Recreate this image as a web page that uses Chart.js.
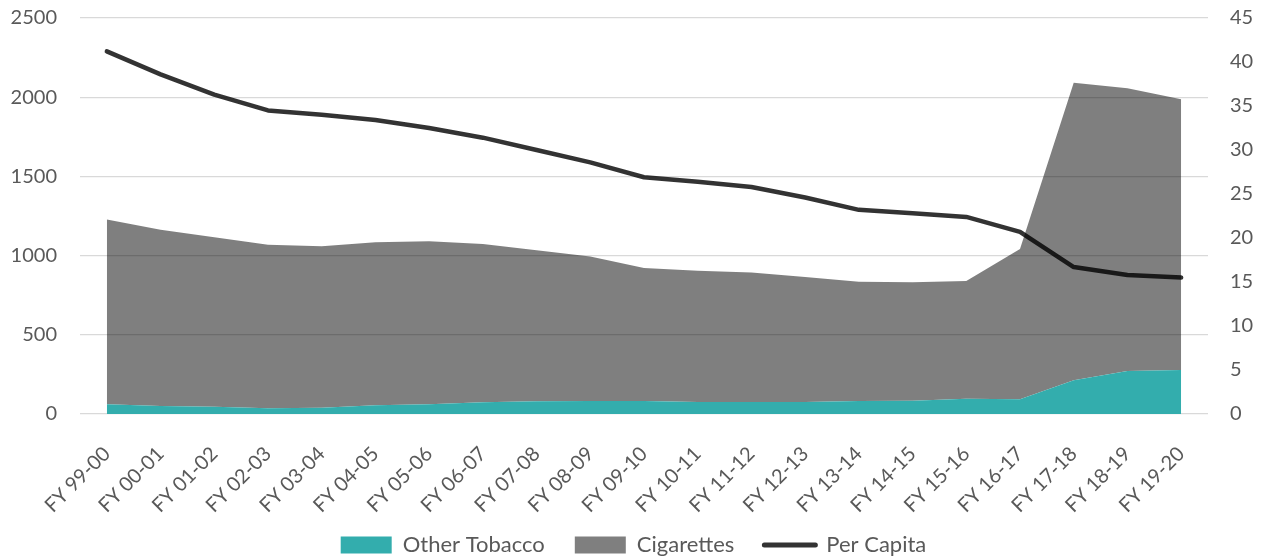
<!DOCTYPE html>
<html>
<head>
<meta charset="utf-8">
<script src="https://cdn.jsdelivr.net/npm/chart.js@4/dist/chart.umd.min.js"></script>
<style>
  html, body { margin: 0; padding: 0; background: #fff; }
  #wrap { width: 1267px; height: 560px; position: relative; }
</style>
</head>
<body>
<div id="wrap"><canvas id="tobaccoChart"></canvas></div>
<script>
// Financial years on the x axis
const years = ['FY 99-00', 'FY 00-01', 'FY 01-02', 'FY 02-03', 'FY 03-04', 'FY 04-05', 'FY 05-06',
    'FY 06-07', 'FY 07-08', 'FY 08-09', 'FY 09-10', 'FY 10-11', 'FY 11-12', 'FY 12-13',
    'FY 13-14', 'FY 14-15', 'FY 15-16', 'FY 16-17', 'FY 17-18', 'FY 18-19', 'FY 19-20'];

// Stacked areas (left axis)
const otherTobacco = [62, 50, 45, 37, 39, 55, 61, 74, 80, 82, 82, 76, 76, 76, 82, 84, 97, 93, 213, 272, 278];
const cigarettes = [1166, 1113, 1071, 1031, 1020, 1029, 1030, 1000, 954, 912, 840, 829, 818, 789, 753, 747, 743, 949, 1879, 1785, 1709];

// Line (right axis)
const perCapita = [41.2, 38.6, 36.3, 34.5, 34.0, 33.4, 32.5, 31.4, 30.0, 28.6, 26.9, 26.4, 25.8, 24.6, 23.2, 22.8, 22.4, 20.7, 16.7, 15.8, 15.5];

const leftTicks = [0, 500, 1000, 1500, 2000, 2500];
const rightTicks = [0, 5, 10, 15, 20, 25, 30, 35, 40, 45];

const fontFamily = 'Lato, "Open Sans", sans-serif';
const textColor = '#595959';

// fixed widths for the value axes, and no extra label padding at top/bottom
const fixAxis = width => scale => {
    scale.width = width;
    scale.paddingTop = 0;
    scale.paddingBottom = 0;
};

const ctx = document.getElementById('tobaccoChart').getContext('2d');

const tobaccoChart = new Chart(ctx, {
    type: 'line',
    data: {
        labels: years,
        datasets: [{
            label: 'Other Tobacco',
            data: otherTobacco,
            yAxisID: 'y',
            stack: 'sales',
            backgroundColor: 'rgb(51, 173, 173)',
            borderWidth: 0,
            pointRadius: 0,
            fill: 'origin',
            order: 1
        }, {
            label: 'Cigarettes',
            data: cigarettes,
            yAxisID: 'y',
            stack: 'sales',
            backgroundColor: 'rgba(0, 0, 0, 0.5)',
            borderWidth: 0,
            pointRadius: 0,
            fill: '-1',
            order: 2
        }, {
            label: 'Per Capita',
            data: perCapita,
            yAxisID: 'y1',
            borderColor: 'rgba(0, 0, 0, 0.8)',
            backgroundColor: 'rgba(0, 0, 0, 0.8)',
            borderWidth: 4.5,
            borderCapStyle: 'round',
            borderJoinStyle: 'round',
            pointRadius: 0,
            fill: false,
            tension: 0,
            order: 0
        }]
    },
    options: {
        responsive: true,
        maintainAspectRatio: false,
        animation: false,
        layout: { padding: { top: 18, right: 0, left: 0, bottom: -6 } },
        plugins: {
            tooltip: { enabled: false },
            legend: {
                position: 'bottom',
                labels: {
                    usePointStyle: true,
                    pointStyleWidth: 51,
                    boxHeight: 17,
                    padding: 30,
                    color: textColor,
                    font: { family: fontFamily, size: 22 },
                    generateLabels: chart => chart.data.datasets.map((ds, i) => ({
                        text: ds.label,
                        fillStyle: i === 2 ? '#333333' : ds.backgroundColor,
                        strokeStyle: '#333333',
                        lineWidth: i === 2 ? 5 : 0,
                        lineCap: 'round',
                        pointStyle: i === 2 ? 'line' : 'rect',
                        fontColor: textColor,
                        hidden: false,
                        datasetIndex: i
                    }))
                }
            }
        },
        scales: {
            x: {
                offset: true,
                afterFit: scale => {
                    scale.height = 90;
                    // let the rotated labels run past the (short) axis box
                    scale._computeLabelArea = () => null;
                },
                grid: { display: false },
                border: { display: false },
                ticks: {
                    color: textColor,
                    font: { family: fontFamily, size: 20 },
                    minRotation: 45,
                    maxRotation: 45,
                    autoSkip: false,
                    padding: 20
                }
            },
            y: {
                position: 'left',
                stacked: true,
                min: 0,
                max: 2500,
                afterFit: fixAxis(80),
                afterBuildTicks: scale => { scale.ticks = leftTicks.map(v => ({ value: v })); },
                grid: { color: '#d9d9d9', lineWidth: 1.3, drawTicks: false },
                border: { display: false },
                ticks: {
                    color: textColor,
                    font: { family: fontFamily, size: 20 },
                    padding: 23,
                    callback: v => String(v)
                }
            },
            y1: {
                position: 'right',
                min: 0,
                max: 45,
                afterFit: fixAxis(59),
                afterBuildTicks: scale => { scale.ticks = rightTicks.map(v => ({ value: v })); },
                grid: { display: false, drawTicks: false },
                border: { display: false },
                ticks: {
                    color: textColor,
                    font: { family: fontFamily, size: 20 },
                    padding: 22,
                    callback: v => String(v)
                }
            }
        }
    }
});
</script>
</body>
</html>
